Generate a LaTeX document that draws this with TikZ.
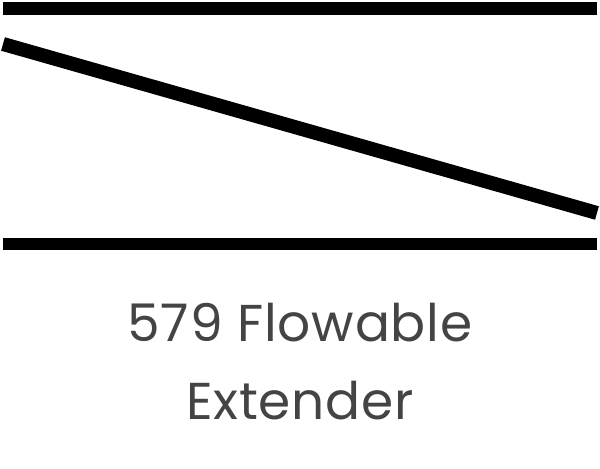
\documentclass[tikz,border=0pt]{standalone}
\usepackage{fontspec}
\setmainfont{Poppins}[LetterSpace=1.5]
\usepackage{xcolor}
\usetikzlibrary{positioning}
\definecolor{labelgray}{HTML}{444444}
\tikzstyle{bar} = [line width=0.25cm, black]
\tikzstyle{slope} = [line width=0.28cm, black]
\tikzstyle{label} = [anchor=base, text=labelgray, inner sep=0pt, font=\fontsize{29.5}{35}\selectfont]

\begin{document}
\begin{tikzpicture}
\useasboundingbox (0,0) rectangle (12,9.38);
\draw[bar] (0.06,9.21)--(11.94,9.21);
\draw[bar] (0.06,4.50)--(11.94,4.50);
\draw[slope] (0.06,8.50)--(11.94,5.12);
\node[label] (name) at (6,2.54) {579 Flowable};
\node[label] (kind) at (6,0.98) {Extender};
\end{tikzpicture}
\end{document}
